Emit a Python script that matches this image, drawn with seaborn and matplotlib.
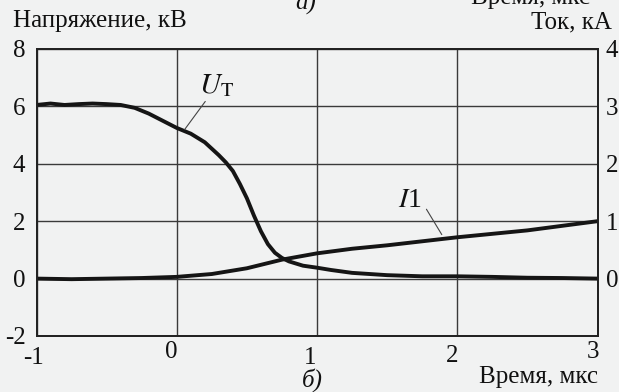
import numpy as np
import pandas as pd
import matplotlib
matplotlib.use("Agg")
import matplotlib.pyplot as plt
import seaborn as sns
from matplotlib.transforms import blended_transform_factory

# ---- data ----
t_u = [-1.0, -0.9, -0.8, -0.7, -0.6, -0.5, -0.4, -0.3, -0.2, -0.1, 0.0, 0.1, 0.2,
       0.3, 0.35, 0.4, 0.45, 0.5, 0.55, 0.6, 0.65, 0.7, 0.75, 0.8, 0.9, 1.0, 1.1,
       1.25, 1.5, 1.75, 2.0, 2.25, 2.5, 2.75, 3.0]
u_t = [6.05, 6.1, 6.05, 6.08, 6.1, 6.08, 6.05, 5.95, 5.75, 5.5, 5.25, 5.05, 4.75,
       4.3, 4.05, 3.75, 3.3, 2.8, 2.2, 1.65, 1.2, 0.9, 0.72, 0.6, 0.45, 0.38, 0.3,
       0.2, 0.12, 0.08, 0.08, 0.06, 0.03, 0.02, 0.0]

t_i = [-1.0, -0.75, -0.5, -0.25, 0.0, 0.25, 0.5, 0.75, 1.0, 1.25, 1.5, 1.75, 2.0,
       2.25, 2.5, 2.75, 3.0]
i_1 = [0.0, -0.01, 0.0, 0.01, 0.03, 0.08, 0.18, 0.33, 0.44, 0.52, 0.58, 0.65, 0.72,
       0.78, 0.84, 0.92, 1.0]

x_ticks = [-1, 0, 1, 2, 3]
x_labels = ["-1", "0", "1", "2", "3"]
y_left_ticks = [-2, 0, 2, 4, 6, 8]
y_right_ticks = [0, 1, 2, 3, 4]

df_u = pd.DataFrame({"t": t_u, "U": u_t})
df_i = pd.DataFrame({"t": t_i, "I": i_1})

# ---- style ----
sns.set_style("white")
plt.rcParams["font.family"] = ["Liberation Serif", "DejaVu Serif"]
plt.rcParams["mathtext.fontset"] = "stix"

bg = "#f1f2f2"
W, H = 619, 392
fig = plt.figure(figsize=(W / 100, H / 100), dpi=100, facecolor=bg)
L, R, T, B = 36.5, 597.5, 49, 336
ax = fig.add_axes([L / W, 1 - B / H, (R - L) / W, (B - T) / H])
ax.set_facecolor(bg)
ax2 = ax.twinx()

sns.lineplot(data=df_u, x="t", y="U", ax=ax, color="#151515", lw=2.8)
sns.lineplot(data=df_i, x="t", y="I", ax=ax2, color="#151515", lw=2.8)

ax.set_xlim(-1, 3)
ax.set_ylim(-2, 8)
ax2.set_ylim(-1, 4)

ax.set_xticks(x_ticks)
ax.set_xticklabels([])
ax.set_yticks(y_left_ticks)
ax.set_yticklabels([str(v) for v in y_left_ticks])
ax2.set_yticks(y_right_ticks)
ax2.set_yticklabels([str(v) for v in y_right_ticks])
ax.tick_params(axis="both", length=0, labelsize=18, colors="#111")
ax.tick_params(axis="y", pad=8)
ax2.tick_params(axis="y", length=0, pad=6, labelsize=18, colors="#111")
ax.set_xlabel("")
ax.set_ylabel("")
ax2.set_ylabel("")

ax.grid(True, color="#3a3a3a", lw=1.0)
ax2.grid(False)
for a in (ax, ax2):
    for s in a.spines.values():
        s.set_visible(True)
        s.set_color("#222")
        s.set_linewidth(1.3)

# x tick labels (staggered as in the scan)
tr = blended_transform_factory(ax.transData, fig.transFigure)
x_label_pos = [(-1.02, 358), (-0.04, 351.5), (0.95, 358), (1.96, 356.5), (2.97, 352)]
for (xv, ypx), lab in zip(x_label_pos, x_labels):
    fig.text(xv, 1 - ypx / H, lab, transform=tr, ha="center", va="center",
             fontsize=18, color="#111")

# axis titles
fig.text(13 / W, 1 - 21 / H, "Напряжение, кВ", ha="left", va="center", fontsize=18, color="#111")
fig.text(612 / W, 1 - 22 / H, "Ток, кА", ha="right", va="center", fontsize=18, color="#111")
fig.text(598 / W, 1 - 377 / H, "Время, мкс", ha="right", va="center", fontsize=18, color="#111")
fig.text(312 / W, 1 - 380 / H, "б)", ha="center", va="center", fontsize=18,
         style="italic", color="#111")
# cut-off captions at the top edge of the scan
fig.text(295 / W, 1 - 10 / H, "а)", ha="left", va="baseline", fontsize=18,
         style="italic", color="#111")
fig.text(590 / W, 1 - 4 / H, "Время, мкс", ha="right", va="baseline", fontsize=18, color="#111")

# curve labels with leader lines
ax.text(0.28, 6.74, r"$U_{\mathrm{T}}$", fontsize=21, ha="center", va="center", color="#111")
ax.annotate("", xy=(0.045, 5.12), xytext=(0.215, 6.25),
            arrowprops=dict(arrowstyle="-", lw=0.8, color="#444"))
ax.text(1.66, 2.72, r"$I$1", fontsize=20, ha="center", va="center", color="#111")
ax.annotate("", xy=(1.9, 1.45), xytext=(1.77, 2.5),
            arrowprops=dict(arrowstyle="-", lw=0.8, color="#444"))

fig.savefig("out.png", dpi=100, facecolor=bg)
